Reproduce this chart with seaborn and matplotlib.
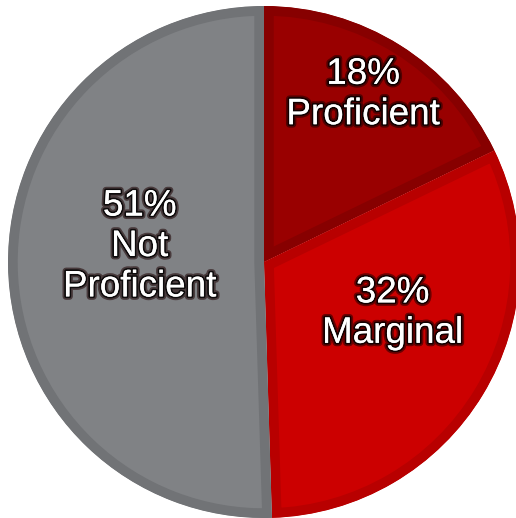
import matplotlib
matplotlib.use("Agg")
import matplotlib.pyplot as plt
import matplotlib.patheffects as pe
from matplotlib.patches import Wedge
import numpy as np
import seaborn as sns

sns.set_theme(style="white")
plt.rcParams['font.family'] = ['Liberation Sans', 'DejaVu Sans']

categories = ["Proficient", "Marginal", "Not\nProficient"]
values = [18, 32, 51]
fill_colors = ["#990000", "#CC0000", "#808285"]
edge_colors = ["#870000", "#B80000", "#717376"]

# label placement (layout): radius and angular offset from wedge mid-angle
label_radius = [0.76, 0.54, 0.49]
label_angle_offset = [1.5, 9.5, -8.0]

fig = plt.figure(figsize=(5.16, 5.18), dpi=100)
W, H = 516, 518
cx, cy, R = 264, 262, 256
ax = fig.add_axes([(cx - R) / W, (H - cy - R) / H, 2 * R / W, 2 * R / H])

wedges, _ = ax.pie(values, colors=fill_colors, startangle=90, counterclock=False,
                   radius=1.0, wedgeprops=dict(linewidth=0))
ax.set_xlim(-1, 1)
ax.set_ylim(-1, 1)
ax.set_aspect("equal")
ax.axis("off")

for w, ec in zip(wedges, edge_colors):
    clip = Wedge(w.center, w.r, w.theta1, w.theta2, transform=ax.transData)
    w.set_edgecolor(ec)
    w.set_linewidth(14)
    w.set_clip_on(True)
    w.set_clip_path(clip)

for w, cat, v, r, off in zip(wedges, categories, values, label_radius, label_angle_offset):
    mid = np.deg2rad((w.theta1 + w.theta2) / 2 + off)
    x, y = r * np.cos(mid), r * np.sin(mid)
    ax.text(x, y, f"{v}%\n{cat}", ha="center", va="center", color="white",
            fontsize=26.5, linespacing=1.2,
            path_effects=[pe.withStroke(linewidth=5, foreground="#1a0000", alpha=0.55),
                          pe.withStroke(linewidth=2.5, foreground="#000000", alpha=0.8),
                          pe.Normal()])

fig.savefig("out.png", dpi=100, facecolor="white")
